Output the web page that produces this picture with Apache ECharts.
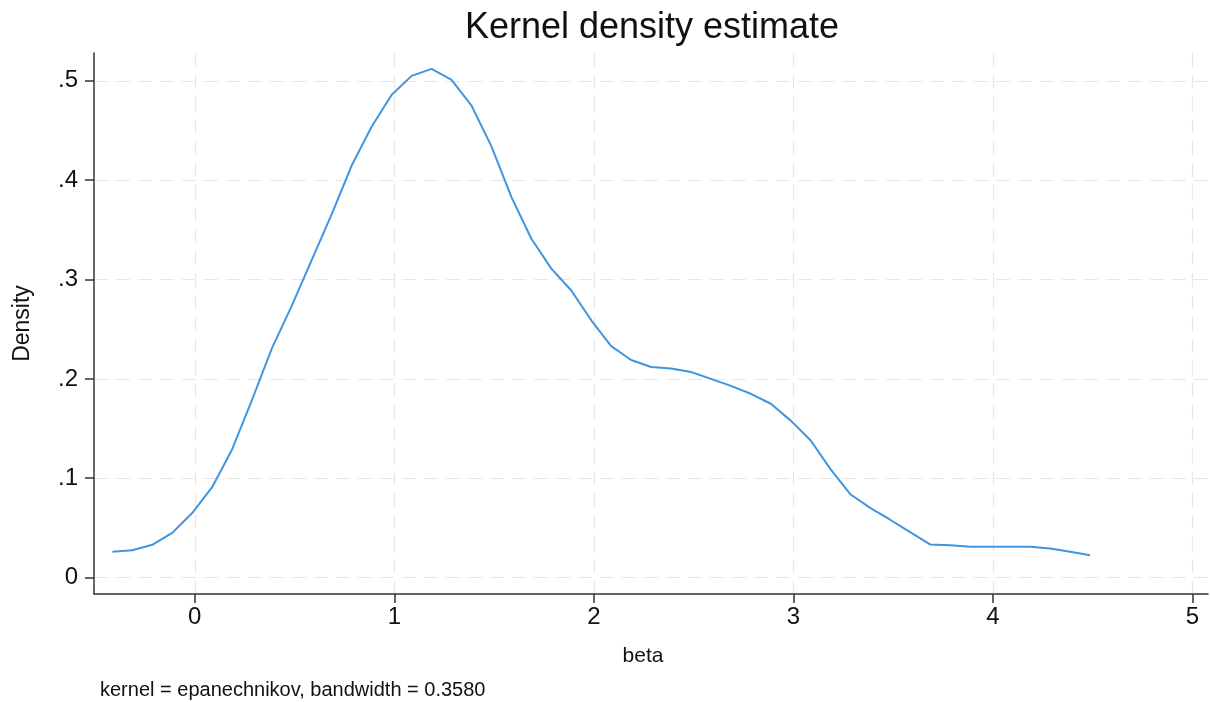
<!DOCTYPE html>
<html>
<head>
<meta charset="utf-8">
<title>Kernel density estimate</title>
<script src="https://cdn.jsdelivr.net/npm/echarts@6/dist/echarts.min.js"></script>
<style>
  html, body { margin: 0; padding: 0; background: #fff; }
  #chart { width: 1210px; height: 702px; }
</style>
</head>
<body>
<div id="chart"></div>
<script>
// evaluation points of the density (beta)
const betaPoints = [
  -0.413, -0.313, -0.213, -0.113, -0.013, 0.087, 0.187, 0.287, 0.387, 0.487,
  0.587, 0.687, 0.787, 0.887, 0.987, 1.087, 1.187, 1.287, 1.387, 1.487,
  1.587, 1.687, 1.787, 1.887, 1.987, 2.087, 2.187, 2.287, 2.387, 2.487,
  2.587, 2.687, 2.787, 2.887, 2.987, 3.087, 3.187, 3.287, 3.387, 3.487,
  3.587, 3.687, 3.787, 3.887, 3.987, 4.087, 4.187, 4.287, 4.387, 4.487
];
// estimated density at each point
const densityValues = [
  0.026, 0.0275, 0.033, 0.045, 0.065, 0.091, 0.129, 0.179, 0.231, 0.274,
  0.320, 0.366, 0.415, 0.454, 0.486, 0.505, 0.512, 0.501, 0.475, 0.434,
  0.383, 0.341, 0.311, 0.289, 0.259, 0.233, 0.219, 0.212, 0.2105, 0.207,
  0.200, 0.193, 0.185, 0.175, 0.158, 0.138, 0.109, 0.0836, 0.070, 0.058,
  0.0456, 0.0332, 0.0325, 0.031, 0.031, 0.031, 0.031, 0.0292, 0.026, 0.0225
];
const xTicks = [0, 1, 2, 3, 4, 5];
const yTicks = [0, 0.1, 0.2, 0.3, 0.4, 0.5];

const chart = echarts.init(document.getElementById('chart'));

const gridLine = {
  show: true,
  lineStyle: { color: '#e6e6e6', width: 1.2, type: [14, 8] }
};

const option = {
  backgroundColor: '#fff',
  animation: false,
  textStyle: { fontFamily: 'Liberation Sans, Arial, sans-serif' },
  graphic: [
    {
      type: 'text',
      x: 652, y: 28,
      style: {
        text: 'Kernel density estimate',
        font: '36px "Liberation Sans", Arial, sans-serif',
        fill: '#111',
        textAlign: 'center',
        textVerticalAlign: 'middle'
      }
    },
    {
      type: 'text',
      x: 100, y: 690,
      style: {
        text: 'kernel = epanechnikov, bandwidth = 0.3580',
        font: '20px "Liberation Sans", Arial, sans-serif',
        fill: '#111',
        textAlign: 'left',
        textVerticalAlign: 'middle'
      }
    }
  ],
  grid: { left: 94, right: 2, top: 53, bottom: 108, containLabel: false },
  xAxis: {
    type: 'value',
    min: -0.505,
    max: 5.078,
    name: 'beta',
    nameLocation: 'middle',
    nameGap: 52,
    nameTextStyle: { color: '#111', fontSize: 21, padding: [0, 16, 0, 0] },
    axisLine: { show: true, onZero: false, lineStyle: { color: '#333', width: 1.5 } },
    axisTick: { show: true, length: 9, customValues: xTicks, lineStyle: { color: '#333', width: 1.5 } },
    axisLabel: { customValues: xTicks, color: '#111', fontSize: 24, margin: 11 },
    splitLine: gridLine
  },
  yAxis: {
    type: 'value',
    min: -0.0165,
    max: 0.528,
    name: 'Density',
    nameLocation: 'middle',
    nameGap: 60,
    nameRotate: 90,
    nameTextStyle: { color: '#111', fontSize: 23 },
    axisLine: { show: true, onZero: false, lineStyle: { color: '#333', width: 1.5 } },
    axisTick: { show: true, length: 9, customValues: yTicks, lineStyle: { color: '#333', width: 1.5 } },
    axisLabel: {
      customValues: yTicks,
      color: '#111',
      fontSize: 24,
      margin: 16,
      formatter: function (v) {
        return v === 0 ? '0' : String(+v.toFixed(2)).replace(/^0/, '');
      }
    },
    splitLine: gridLine
  },
  series: [
    {
      type: 'line',
      data: betaPoints.map((b, i) => [b, densityValues[i]]),
      showSymbol: false,
      smooth: false,
      lineStyle: { color: '#3f95e0', width: 2 },
      itemStyle: { color: '#3f95e0' }
    }
  ]
};

chart.setOption(option);
</script>
</body>
</html>
